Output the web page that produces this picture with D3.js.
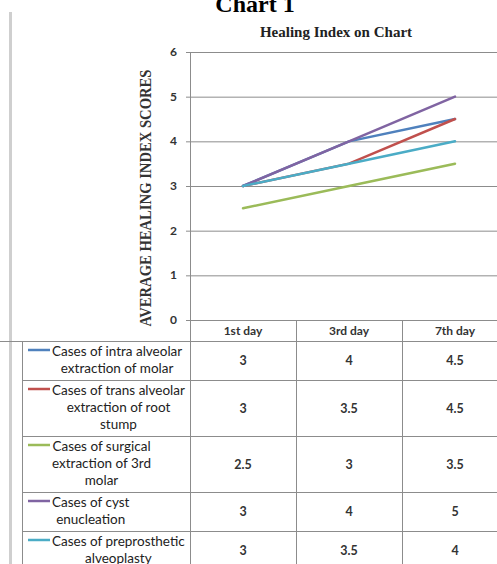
<!DOCTYPE html>
<html>
<head>
<meta charset="utf-8">
<script src="https://cdn.jsdelivr.net/npm/d3@7"></script>
<style>
  body { margin: 0; background: #fff; }
</style>
</head>
<body>
<div id="chart"></div>
<script>
// --- Data ---
const days = ["1st day", "3rd day", "7th day"];
const seriesLabels = [
    ["Cases of intra alveolar", "extraction of molar"],
    ["Cases of trans alveolar", "extraction of root", "stump"],
    ["Cases of surgical", "extraction of 3rd", "molar"],
    ["Cases of cyst", "enucleation"],
    ["Cases of preprosthetic", "alveoplasty"]
];
const intraAlveolar = [3, 4, 4.5];
const transAlveolar = [3, 3.5, 4.5];
const surgicalThirdMolar = [2.5, 3, 3.5];
const cystEnucleation = [3, 4, 5];
const preprosthetic = [3, 3.5, 4];
const seriesColours = ["#4f81bd", "#c0504d", "#9bbb59", "#8064a2", "#4bacc6"];
const yTicks = [0, 1, 2, 3, 4, 5, 6];

const seriesValues = [intraAlveolar, transAlveolar, surgicalThirdMolar, cystEnucleation, preprosthetic];
const series = seriesLabels.map((lines, i) => ({
    lines,
    values: seriesValues[i],
    colour: seriesColours[i]
}));

const width = 497;
const height = 564;
const plotTop = 52, plotBottom = 320, plotLeft = 190, plotRight = 508;
const labelLeft = 22;
const lineStep = 17;
const gridColour = "#8c8c8c";
const tableFont = "Lato, 'Open Sans', sans-serif";

const x = d3.scaleBand().domain(days).range([plotLeft, plotRight]);
const y = d3.scaleLinear().domain([0, 6]).range([plotBottom, plotTop]);

// attach first so text can be measured
const svg = d3.select("#chart").append("svg")
    .attr("width", width)
    .attr("height", height)
    .style("display", "block");

// page frame line on the left
svg.append("line")
    .attr("x1", 10.5).attr("x2", 10.5)
    .attr("y1", 12).attr("y2", height)
    .attr("stroke", "#cfcfcf").attr("stroke-width", 3);

// --- Titles ---
svg.append("text")
    .attr("x", 255).attr("y", 12)
    .attr("text-anchor", "middle")
    .attr("font-family", "'Liberation Serif', serif")
    .attr("font-weight", "bold")
    .attr("font-size", 24)
    .text("Chart 1");

svg.append("text")
    .attr("x", 336).attr("y", 37)
    .attr("text-anchor", "middle")
    .attr("font-family", "'Liberation Serif', serif")
    .attr("font-weight", "bold")
    .attr("font-size", 15)
    .attr("fill", "#222")
    .text("Healing Index on Chart");

svg.append("text")
    .attr("transform", `translate(151, ${(plotTop + plotBottom) / 2 + 12}) rotate(-90)`)
    .attr("text-anchor", "middle")
    .attr("font-family", "'Liberation Serif', serif")
    .attr("font-weight", "bold")
    .attr("font-size", 17)
    .attr("fill", "#333")
    .attr("textLength", 257)
    .attr("lengthAdjust", "spacingAndGlyphs")
    .text("AVERAGE HEALING INDEX SCORES");

// --- Gridlines and y axis ---
svg.append("g")
    .selectAll("line")
    .data(yTicks)
    .join("line")
    .attr("x1", plotLeft - 4).attr("x2", width)
    .attr("y1", d => y(d) + 0.5).attr("y2", d => y(d) + 0.5)
    .attr("stroke", gridColour);

svg.append("g")
    .selectAll("text")
    .data(yTicks)
    .join("text")
    .attr("x", 177)
    .attr("y", d => y(d) + 4)
    .attr("text-anchor", "end")
    .attr("font-family", tableFont)
    .attr("font-weight", "bold")
    .attr("font-size", 12)
    .attr("fill", "#333")
    .text(d => d);

// --- Lines ---
const line = d3.line()
    .x((d, i) => x(days[i]) + x.bandwidth() / 2)
    .y(d => y(d));

svg.append("g")
    .selectAll("path")
    .data(series)
    .join("path")
    .attr("d", d => line(d.values))
    .attr("fill", "none")
    .attr("stroke", d => d.colour)
    .attr("stroke-width", 2.5)
    .attr("stroke-linecap", "round");

// --- Data table ---
const headerBottom = 341;
const rows = [];
let rowTop = headerBottom;
series.forEach(s => {
    const h = s.lines.length * lineStep + 5;
    rows.push({ ...s, top: rowTop, h });
    rowTop += h;
});

const table = svg.append("g");

// header labels
table.selectAll("text.head")
    .data(days)
    .join("text")
    .attr("class", "head")
    .attr("x", d => x(d) + x.bandwidth() / 2)
    .attr("y", 335)
    .attr("text-anchor", "middle")
    .attr("font-family", tableFont)
    .attr("font-weight", "bold")
    .attr("font-size", 12)
    .attr("fill", "#333")
    .text(d => d);

// horizontal rules
table.append("line")
    .attr("x1", 0).attr("x2", width)
    .attr("y1", headerBottom + 0.5).attr("y2", headerBottom + 0.5)
    .attr("stroke", gridColour);
table.selectAll("line.rowrule")
    .data(rows)
    .join("line")
    .attr("class", "rowrule")
    .attr("x1", labelLeft).attr("x2", width)
    .attr("y1", d => d.top + d.h + 0.5).attr("y2", d => d.top + d.h + 0.5)
    .attr("stroke", gridColour);

// vertical rules
table.append("line")
    .attr("x1", labelLeft + 0.5).attr("x2", labelLeft + 0.5)
    .attr("y1", headerBottom).attr("y2", height)
    .attr("stroke", gridColour);
table.append("line")
    .attr("x1", plotLeft + 0.5).attr("x2", plotLeft + 0.5)
    .attr("y1", plotTop).attr("y2", height)
    .attr("stroke", gridColour);
table.selectAll("line.colrule")
    .data(days.slice(1))
    .join("line")
    .attr("class", "colrule")
    .attr("x1", d => Math.round(x(d)) + 0.5).attr("x2", d => Math.round(x(d)) + 0.5)
    .attr("y1", plotBottom).attr("y2", height)
    .attr("stroke", gridColour);

// row labels with legend keys
const rowG = table.selectAll("g.row")
    .data(rows)
    .join("g")
    .attr("class", "row");

rowG.append("line")
    .attr("x1", 28).attr("x2", 50)
    .attr("y1", d => d.top + 9).attr("y2", d => d.top + 9)
    .attr("stroke", d => d.colour)
    .attr("stroke-width", 2.5);

rowG.each(function(d) {
    const g = d3.select(this);
    const texts = g.selectAll("text.lab")
        .data(d.lines)
        .join("text")
        .attr("class", "lab")
        .attr("y", (t, i) => d.top + 15 + i * lineStep)
        .attr("text-anchor", "middle")
        .attr("font-family", tableFont)
        .attr("font-size", 13.5)
        .attr("fill", "#222")
        .text(t => t);
    const widest = d3.max(texts.nodes(), n => n.getComputedTextLength());
    texts.attr("x", 52 + widest / 2);
});

// values
rowG.selectAll("text.val")
    .data(d => d.values.map((v, i) => ({ v, day: days[i], row: d })))
    .join("text")
    .attr("class", "val")
    .attr("x", d => x(d.day) + x.bandwidth() / 2)
    .attr("y", d => d.row.top + d.row.h / 2 + 4.5)
    .attr("text-anchor", "middle")
    .attr("font-family", tableFont)
    .attr("font-weight", "bold")
    .attr("font-size", 12.5)
    .attr("fill", "#333")
    .text(d => d.v);
</script>
</body>
</html>
